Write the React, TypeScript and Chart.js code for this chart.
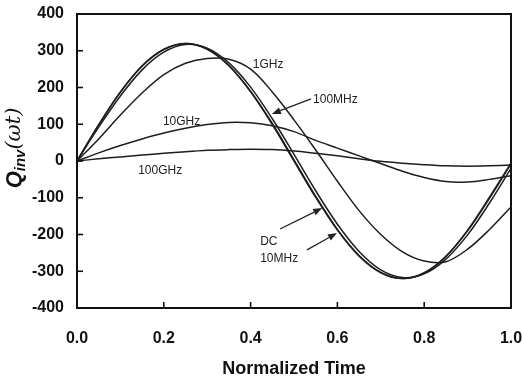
import React, { useEffect, useRef } from 'react';
import { Chart, registerables } from 'chart.js';

Chart.register(...registerables);

// Normalized time samples
const times = [0, 0.05, 0.1, 0.15, 0.2, 0.25, 0.3, 0.35, 0.4, 0.45, 0.5, 0.55, 0.6, 0.65, 0.7, 0.75, 0.8, 0.85, 0.9, 0.95, 1.0];

// Q_inv(wt)
const dcValues = [0, 99, 188, 259, 304, 320, 304, 259, 188, 99, 0, -99, -188, -259, -304, -320, -304, -259, -188, -99, -6];
const mhz10Values = [0, 98, 187, 258, 303, 320, 305, 260, 190, 102, 3, -96, -186, -257, -303, -320, -305, -260, -190, -102, -8];
const mhz100Values = [0, 92, 177, 248, 296, 317, 307, 267, 201, 115, 18, -81, -172, -246, -296, -317, -307, -267, -201, -115, -20];
const ghz1Values = [0, 60, 125, 185, 235, 266, 279, 277, 250, 188, 112, 30, -55, -135, -200, -247, -272, -274, -240, -187, -125];
const ghz10Values = [0, 22, 42, 60, 76, 89, 99, 105, 104, 96, 80, 56, 35, 14, -7, -28, -45, -56, -57, -50, -40];
const ghz100Values = [0, 6, 11, 16, 21, 25, 29, 31, 32, 31, 27, 21, 14, 6, -1, -6, -10, -13, -14, -13, -11];

const seriesNames = ['DC', '10MHz', '100MHz', '1GHz', '10GHz', '100GHz'];
const seriesValues = [dcValues, mhz10Values, mhz100Values, ghz1Values, ghz10Values, ghz100Values];

const xTicks = [0, 0.2, 0.4, 0.6, 0.8, 1.0];
const yTicks = [-400, -300, -200, -100, 0, 100, 200, 300, 400];

const xTitle = 'Normalized Time';

// annotation labels (data coordinates, left-aligned)
const noteTexts = ['1GHz', '100MHz', '10GHz', '100GHz', 'DC', '10MHz'];
const noteT = [0.405, 0.544, 0.198, 0.141, 0.422, 0.422];
const noteV = [261, 166, 106, -27, -220, -267];

// arrows: from (t,v) to tip (t,v)
const arrowFromT = [0.539, 0.468, 0.530];
const arrowFromV = [169, -185, -242];
const arrowToT = [0.449, 0.565, 0.599];
const arrowToV = [128, -128, -196];

const FONT = '"Liberation Sans", Arial, Helvetica, sans-serif';

const decorPlugin = {
  id: 'decor',
  afterDatasetsDraw(chart: any) {
    const { ctx, chartArea: a, scales } = chart;
    const xs = scales.x;
    const ys = scales.y;
    ctx.save();
    // frame
    ctx.strokeStyle = '#111';
    ctx.lineWidth = 2;
    ctx.strokeRect(a.left, a.top, a.right - a.left, a.bottom - a.top);
    // inward ticks
    ctx.lineWidth = 1.6;
    for (const t of xTicks) {
      const px = xs.getPixelForValue(t);
      ctx.beginPath();
      ctx.moveTo(px, a.bottom);
      ctx.lineTo(px, a.bottom - 6);
      ctx.stroke();
    }
    for (const v of yTicks) {
      const py = ys.getPixelForValue(v);
      ctx.beginPath();
      ctx.moveTo(a.left, py);
      ctx.lineTo(a.left + 6, py);
      ctx.stroke();
    }
    // notes
    ctx.fillStyle = '#222';
    ctx.font = '12px ' + FONT;
    ctx.textBaseline = 'middle';
    ctx.textAlign = 'left';
    noteTexts.forEach((txt, i) => {
      ctx.fillText(txt, xs.getPixelForValue(noteT[i]), ys.getPixelForValue(noteV[i]));
    });
    // arrows
    ctx.strokeStyle = '#222';
    ctx.lineWidth = 1.3;
    for (let i = 0; i < arrowFromT.length; i++) {
      const x0 = xs.getPixelForValue(arrowFromT[i]);
      const y0 = ys.getPixelForValue(arrowFromV[i]);
      const x1 = xs.getPixelForValue(arrowToT[i]);
      const y1 = ys.getPixelForValue(arrowToV[i]);
      const ang = Math.atan2(y1 - y0, x1 - x0);
      const hl = 9;
      const hw = 3.5;
      const bx = x1 - hl * Math.cos(ang);
      const by = y1 - hl * Math.sin(ang);
      ctx.beginPath();
      ctx.moveTo(x0, y0);
      ctx.lineTo(bx, by);
      ctx.stroke();
      ctx.beginPath();
      ctx.moveTo(x1, y1);
      ctx.lineTo(bx + hw * Math.sin(ang), by - hw * Math.cos(ang));
      ctx.lineTo(bx - hw * Math.sin(ang), by + hw * Math.cos(ang));
      ctx.closePath();
      ctx.fill();
    }
    // x title
    ctx.fillStyle = '#111';
    ctx.font = 'bold 18px ' + FONT;
    ctx.textAlign = 'center';
    ctx.textBaseline = 'middle';
    ctx.fillText(xTitle, (a.left + a.right) / 2, a.bottom + 61);
    // y title: Q_inv(ωt)
    const parts = [
      { text: 'Q', font: 'bold italic 22px ' + FONT, dy: 0 },
      { text: 'inv', font: 'bold italic 15px ' + FONT, dy: 6 },
      { text: '(ωt)', font: 'italic 21px "DejaVu Serif", serif', dy: 0 },
    ];
    let total = 0;
    const widths = parts.map((p) => {
      ctx.font = p.font;
      const w = ctx.measureText(p.text).width;
      total += w;
      return w;
    });
    ctx.translate(a.left - 62, a.top + 134);
    ctx.rotate(-Math.PI / 2);
    ctx.textAlign = 'left';
    ctx.textBaseline = 'middle';
    let cx = -total / 2;
    parts.forEach((p, i) => {
      ctx.font = p.font;
      ctx.fillText(p.text, cx, p.dy);
      cx += widths[i];
    });
    ctx.restore();
  },
};

export default function App() {
  const canvasRef = useRef<HTMLCanvasElement | null>(null);

  useEffect(() => {
    if (!canvasRef.current) return;
    Chart.defaults.font.family = FONT;
    Chart.defaults.color = '#111';
    const chart = new Chart(canvasRef.current, {
      type: 'line',
      data: {
        datasets: seriesValues.map((vals, i) => ({
          label: seriesNames[i],
          data: times.map((t, j) => ({ x: t, y: vals[j] })),
          borderColor: '#1e1e1e',
          borderWidth: 1.5,
          pointRadius: 0,
          fill: false,
          tension: 0.35,
        })),
      },
      options: {
        responsive: false,
        animation: false,
        devicePixelRatio: 1,
        layout: { padding: { top: 14, right: 11, left: 0, bottom: 0 } },
        plugins: { legend: { display: false }, tooltip: { enabled: false } },
        scales: {
          x: {
            type: 'linear',
            min: 0,
            max: 1,
            grid: { display: false, drawTicks: false },
            border: { display: false },
            afterBuildTicks: (s: any) => {
              s.ticks = xTicks.map((v) => ({ value: v }));
            },
            afterFit: (s: any) => {
              s.height = 70;
              s.paddingLeft = 0;
              s.paddingRight = 0;
            },
            ticks: {
              padding: 21,
              font: { size: 16, weight: 'bold' },
              color: '#111',
              callback: (v: any) => Number(v).toFixed(1),
            },
          },
          y: {
            type: 'linear',
            min: -400,
            max: 400,
            grid: { display: false, drawTicks: false },
            border: { display: false },
            afterBuildTicks: (s: any) => {
              s.ticks = yTicks.map((v) => ({ value: v }));
            },
            afterFit: (s: any) => {
              s.width = 77;
              s.paddingTop = 0;
              s.paddingBottom = 0;
            },
            ticks: {
              padding: 13,
              font: { size: 16, weight: 'bold' },
              color: '#111',
            },
          },
        },
      },
      plugins: [decorPlugin],
    });
    return () => chart.destroy();
  }, []);

  return (
    <div style={{ position: 'fixed', left: 0, top: 0, width: 522, height: 378, background: '#fff' }}>
      <canvas ref={canvasRef} width={522} height={378} />
    </div>
  );
}
